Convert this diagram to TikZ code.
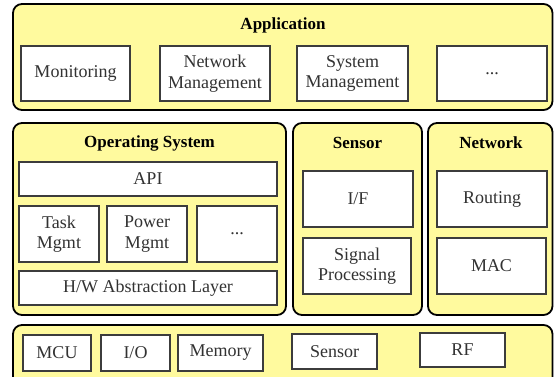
\documentclass[tikz,border=0pt]{standalone}
\usepackage{fontspec}
\setmainfont{Liberation Serif}
\definecolor{layerfill}{RGB}{255,250,158}
\definecolor{boxline}{RGB}{60,60,60}
\definecolor{txt}{RGB}{50,50,50}
\tikzset{
  outerbox/.style={draw=black, line width=1.8pt, fill=layerfill, rounded corners=9pt},
  ibox/.style={draw=boxline, line width=1.1pt, fill=white, inner sep=0pt, align=center,
    text=txt, font=\fontsize{18}{20.5}\selectfont},
  ttl/.style={inner sep=0pt, font=\bfseries\fontsize{17}{20}\selectfont, text=black}
}
\begin{document}
\begin{tikzpicture}[x=1pt,y=-1pt]
\useasboundingbox (0,0) rectangle (554,376);
\clip (0,0) rectangle (554,376);
% outer layers
\draw[outerbox] (13,4) rectangle (552.5,110);
\draw[outerbox] (13,123) rectangle (286,315);
\draw[outerbox] (293,123) rectangle (422,315);
\draw[outerbox] (428,123) rectangle (552.5,315);
\draw[outerbox] (13,325) rectangle (552.5,400);
% titles
\node[ttl] (tapp) at (283,25) {Application};
\node[ttl] (tos) at (149.5,143) {Operating System};
\node[ttl] (tsen) at (357.5,143) {Sensor};
\node[ttl] (tnet) at (491,143) {Network};
% application
\node[ibox, minimum width=109pt, minimum height=55pt] (mon) at (75.5,73.5) {Monitoring};
\node[ibox, minimum width=110pt, minimum height=55pt] (nm) at (215,73.5) {Network\\Management};
\node[ibox, minimum width=111pt, minimum height=55pt] (sm) at (352.5,73.5) {System\\Management};
\node[ibox, minimum width=110pt, minimum height=55pt] (ad) at (492,73.5) {...};
% OS
\node[ibox, minimum width=258pt, minimum height=34pt] (api) at (148,179) {API};
\node[ibox, minimum width=80pt, minimum height=56pt] (task) at (59,234) {Task\\Mgmt};
\node[ibox, minimum width=80pt, minimum height=56pt] (pow) at (147,234) {Power\\Mgmt};
\node[ibox, minimum width=80pt, minimum height=56pt] (od) at (237,234) {...};
\node[ibox, minimum width=258pt, minimum height=34pt] (hal) at (148,288) {H/W Abstraction Layer};
% sensor
\node[ibox, minimum width=110pt, minimum height=56pt] (if) at (358,199) {I/F};
\node[ibox, minimum width=108pt, minimum height=56pt] (sp) at (357,266) {Signal\\Processing};
% network
\node[ibox, minimum width=110pt, minimum height=56pt] (rt) at (492,199) {Routing};
\node[ibox, minimum width=109pt, minimum height=56pt] (mac) at (491.5,266) {MAC};
% hardware
\node[ibox, minimum width=68pt, minimum height=36pt] (mcu) at (57,353) {MCU};
\node[ibox, minimum width=69pt, minimum height=36pt] (io) at (135.5,353) {I/O};
\node[ibox, minimum width=85pt, minimum height=36pt] (mem) at (220.5,353) {Memory};
\node[ibox, minimum width=85pt, minimum height=35pt] (hs) at (334.5,351.5) {Sensor};
\node[ibox, minimum width=85pt, minimum height=34pt] (rf) at (462.5,350) {RF};
\end{tikzpicture}
\end{document}
